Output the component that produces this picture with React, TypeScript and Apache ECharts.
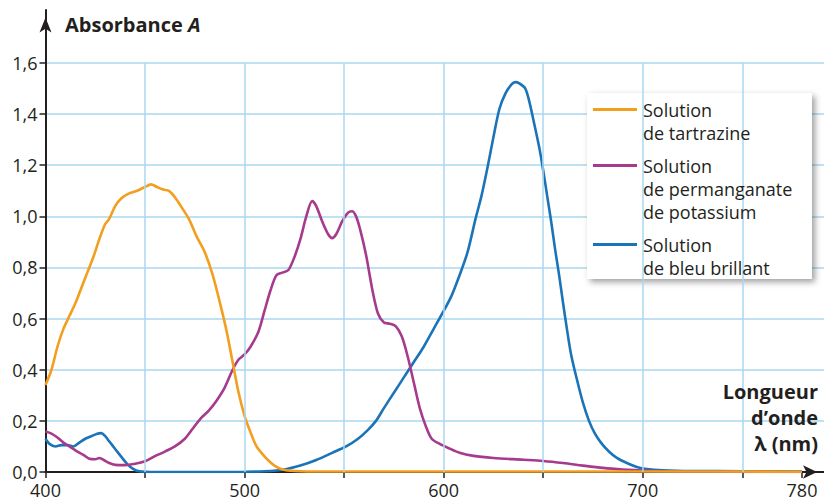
import React, { useEffect, useRef } from 'react';
import * as echarts from 'echarts';

// ---- Data ----
const tartrazineNm = [400, 403, 406, 409, 412, 415, 418, 421, 424, 427, 430, 432, 435, 438, 442, 446, 450, 453, 456, 459, 462, 465, 468, 472, 476, 480, 484, 488, 491, 494, 497, 500, 503, 506, 509, 512, 515, 519, 525, 540, 600, 700, 780];
const tartrazineA = [0.34, 0.4, 0.49, 0.56, 0.61, 0.66, 0.72, 0.78, 0.84, 0.91, 0.97, 0.99, 1.04, 1.07, 1.09, 1.1, 1.115, 1.125, 1.115, 1.105, 1.1, 1.075, 1.04, 0.99, 0.92, 0.86, 0.77, 0.65, 0.55, 0.43, 0.31, 0.22, 0.155, 0.1, 0.07, 0.045, 0.025, 0.01, 0.004, 0.002, 0.002, 0.002, 0.001];

const permanganateNm = [400, 403, 406, 409, 412, 415, 419, 422, 425, 427, 429, 432, 435, 440, 445, 450, 455, 460, 465, 470, 474, 478, 482, 486, 490, 494, 497, 500, 503, 507, 510, 513, 516, 519, 522, 525, 528, 531, 534, 536, 539, 542, 544, 546, 549, 552, 554, 556, 558, 561, 564, 567, 570, 573, 576, 579, 582, 585, 588, 591, 594, 598, 602, 608, 615, 625, 640, 650, 660, 670, 680, 690, 700, 720, 780];
const permanganateA = [0.158, 0.15, 0.135, 0.115, 0.1, 0.085, 0.067, 0.052, 0.05, 0.055, 0.048, 0.035, 0.028, 0.027, 0.032, 0.042, 0.062, 0.08, 0.1, 0.13, 0.17, 0.21, 0.24, 0.28, 0.33, 0.4, 0.44, 0.46, 0.49, 0.55, 0.63, 0.71, 0.77, 0.78, 0.79, 0.84, 0.91, 1.0, 1.06, 1.04, 0.98, 0.93, 0.915, 0.93, 0.98, 1.015, 1.02, 1.0, 0.95, 0.85, 0.72, 0.62, 0.585, 0.58, 0.57, 0.53, 0.45, 0.35, 0.25, 0.18, 0.13, 0.11, 0.095, 0.075, 0.063, 0.055, 0.048, 0.043, 0.035, 0.025, 0.016, 0.01, 0.006, 0.002, 0.0];

const bleuNm = [400, 402, 405, 408, 411, 414, 417, 420, 423, 426, 428, 430, 432, 435, 438, 441, 444, 447, 455, 480, 500, 510, 520, 528, 536, 544, 551, 557, 562, 566, 570, 575, 580, 585, 590, 595, 600, 604, 608, 612, 616, 619, 622, 625, 628, 631, 634, 636, 638, 641, 643, 645, 648, 650, 652, 654, 656, 658, 660, 662, 664, 667, 670, 673, 676, 679, 683, 687, 692, 697, 702, 710, 725, 750, 780];
const bleuA = [0.13, 0.11, 0.1, 0.105, 0.105, 0.1, 0.115, 0.13, 0.14, 0.15, 0.152, 0.14, 0.12, 0.09, 0.06, 0.032, 0.012, 0.003, 0.0, 0.0, 0.001, 0.003, 0.01, 0.025, 0.047, 0.075, 0.1, 0.13, 0.165, 0.2, 0.25, 0.31, 0.37, 0.43, 0.49, 0.56, 0.63, 0.69, 0.77, 0.86, 0.99, 1.08, 1.19, 1.31, 1.42, 1.48, 1.515, 1.525, 1.52, 1.5, 1.45, 1.38, 1.27, 1.18, 1.08, 0.98, 0.87, 0.77, 0.66, 0.555, 0.46, 0.36, 0.27, 0.2, 0.15, 0.115, 0.08, 0.055, 0.035, 0.02, 0.012, 0.007, 0.004, 0.003, 0.002];

const seriesNames = ['Solution\nde tartrazine', 'Solution\nde permanganate\nde potassium', 'Solution\nde bleu brillant'];
const xTickValues = [400, 450, 500, 550, 600, 650, 700, 750, 780];
const xLabelValues = [400, 500, 600, 700, 780];
const xGridValues = [450, 500, 550, 600, 650, 700, 750];
const yTickValues = [0, 0.2, 0.4, 0.6, 0.8, 1.0, 1.2, 1.4, 1.6];
const yGridTop = 1.6;
const yAxisTitle = 'Absorbance ';
const yAxisTitleVar = 'A';
const xAxisTitle = 'Longueur\nd’onde\nλ (nm)';

const FONT = "'Open Sans', 'Noto Sans', sans-serif";
const INK = '#231F20';
const GRID = '#A9D9EF';
const COLORS = ['#F29E1F', '#A63B8E', '#1B74B8'];

const pairs = (xs: number[], ys: number[]) => xs.map((x, i) => [x, ys[i]]);

export default function App() {
  const ref = useRef<HTMLDivElement>(null);
  useEffect(() => {
    document.body.style.margin = '0';
    if (!ref.current) return;
    const chart = echarts.init(ref.current, undefined, { renderer: 'svg' });
    const lineSeries = (name: string, xs: number[], ys: number[], color: string, z: number) => ({
      name,
      type: 'line',
      data: pairs(xs, ys),
      symbol: 'none',
      showSymbol: false,
      smooth: 0.3,
      lineStyle: { color, width: 2.6 },
      itemStyle: { color },
      z,
      silent: true,
    });

    // legend (box, line keys and labels)
    const legendLineY = [109.5, 165.5, 244.5];
    const legendOrder = [0, 1, 2];
    const legendGraphics: any[] = [
      {
        type: 'rect',
        x: 587,
        y: 93,
        z: 5,
        shape: { width: 225, height: 186 },
        style: { fill: '#ffffff', shadowBlur: 6, shadowColor: 'rgba(0,0,0,0.38)', shadowOffsetX: 3, shadowOffsetY: 3 },
        silent: true,
      },
    ];
    legendOrder.forEach((k, i) => {
      legendGraphics.push({
        type: 'line',
        z: 6,
        silent: true,
        shape: { x1: 593, y1: legendLineY[i], x2: 637, y2: legendLineY[i] },
        style: { stroke: COLORS[k], lineWidth: 3 },
      });
      legendGraphics.push({
        type: 'text',
        z: 6,
        silent: true,
        x: 643,
        y: legendLineY[i] - 11.5,
        style: {
          text: seriesNames[k],
          align: 'left',
          verticalAlign: 'top',
          fontSize: 18,
          lineHeight: 23,
          fontFamily: FONT,
          fill: INK,
        },
      });
    });

    chart.setOption({
      animation: false,
      grid: { left: 45.5, right: 0, top: 10, bottom: 30, containLabel: false },
      xAxis: {
        type: 'value',
        min: 400,
        max: 791.05,
        axisLine: {
          show: true,
          onZero: false,
          lineStyle: { color: INK, width: 2 },
          symbol: ['none', 'arrow'],
          symbolSize: [10, 14],
          symbolOffset: [0, -7],
        },
        axisTick: { show: true, inside: false, length: 6, lineStyle: { color: INK, width: 1.5 }, customValues: xTickValues },
        axisLabel: {
          customValues: xLabelValues,
          margin: 9,
          fontSize: 18,
          color: INK,
          fontFamily: FONT,
          formatter: (v: number) => String(v),
        },
        splitLine: { show: false },
      },
      yAxis: {
        type: 'value',
        min: 0,
        max: 1.8073,
        axisLine: {
          show: true,
          lineStyle: { color: INK, width: 2 },
          symbol: ['none', 'arrow'],
          symbolSize: [9, 15],
          symbolOffset: [0, -7.5],
        },
        axisTick: { show: true, length: 6, lineStyle: { color: INK, width: 1.5 }, customValues: yTickValues },
        axisLabel: {
          customValues: yTickValues,
          margin: 8,
          fontSize: 18,
          color: INK,
          fontFamily: FONT,
          formatter: (v: number) => v.toFixed(1).replace('.', ','),
        },
        splitLine: { show: true, lineStyle: { color: GRID, width: 1.5 } },
      },
      graphic: [
        ...legendGraphics,
        {
          type: 'text',
          x: 65,
          y: 24,
          z: 6,
          style: {
            text: `{a|${yAxisTitle}}{b|${yAxisTitleVar}}`,
            verticalAlign: 'middle',
            align: 'left',
            rich: {
              a: { fontSize: 20, fontWeight: 'bold', fontFamily: FONT, fill: INK },
              b: { fontSize: 20, fontWeight: 'bold', fontStyle: 'italic', fontFamily: FONT, fill: INK },
            },
          },
        },
        {
          type: 'text',
          x: 818,
          y: 378,
          z: 6,
          style: {
            text: xAxisTitle,
            align: 'right',
            verticalAlign: 'top',
            fontSize: 20,
            lineHeight: 26,
            fontWeight: 'bold',
            fontFamily: FONT,
            fill: INK,
          },
        },
      ],
      series: [
        {
          type: 'line',
          data: [],
          z: 1,
          silent: true,
          markLine: {
            silent: true,
            symbol: 'none',
            label: { show: false },
            lineStyle: { color: GRID, width: 1.5, type: 'solid' },
            data: xGridValues.map((v) => [{ coord: [v, 0] }, { coord: [v, yGridTop] }]),
          },
        },
        lineSeries(seriesNames[2], bleuNm, bleuA, COLORS[2], 3),
        lineSeries(seriesNames[1], permanganateNm, permanganateA, COLORS[1], 3),
        lineSeries(seriesNames[0], tartrazineNm, tartrazineA, COLORS[0], 4),
      ],
    });
    return () => chart.dispose();
  }, []);
  return <div ref={ref} style={{ position: 'absolute', left: 0, top: 0, width: 824, height: 502 }} />;
}
